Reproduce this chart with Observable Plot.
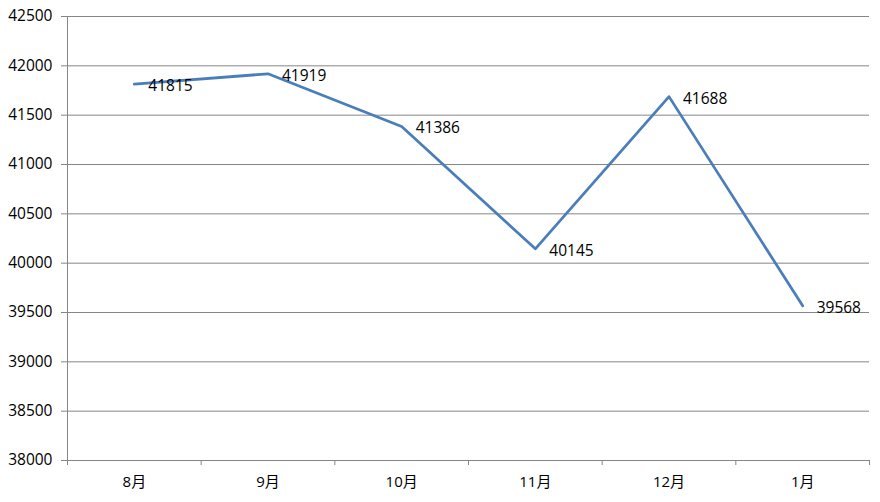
<!DOCTYPE html>
<html>
<head>
<meta charset="utf-8">
<script src="https://cdn.jsdelivr.net/npm/d3@7"></script>
<script src="https://cdn.jsdelivr.net/npm/@observablehq/plot@0.6"></script>
<style>
  html, body { margin: 0; padding: 0; background: #fff; }
  #chart svg { display: block; }
</style>
</head>
<body>
<div id="chart"></div>
<script>
const months = ["8月", "9月", "10月", "11月", "12月", "1月"];
const values = [41815, 41919, 41386, 40145, 41688, 39568];
const yTicks = [38000, 38500, 39000, 39500, 40000, 40500, 41000, 41500, 42000, 42500];

const data = months.map((m, i) => ({ m, i: i + 0.5, v: values[i] }));
const edges = d3.range(months.length + 1);
const centers = months.map((m, i) => i + 0.5);
const font = "'Open Sans', 'Noto Sans CJK SC', sans-serif";
const gray = "#868686";

const chart = Plot.plot({
  width: 880,
  height: 502,
  marginLeft: 67,
  marginRight: 11,
  marginTop: 16,
  marginBottom: 42,
  style: { fontFamily: font, fontSize: "15px", color: "#000", background: "#fff" },
  x: { type: "linear", domain: [0, months.length] },
  y: { domain: [38000, 42500] },
  marks: [
    Plot.gridY(yTicks, { x1: 0, x2: months.length, stroke: gray, strokeOpacity: 1, strokeWidth: 1 }),
    Plot.axisY(yTicks, { tickSize: 6, tickPadding: 9, tickFormat: (d) => String(d), stroke: gray, strokeOpacity: 1, fill: "#000", fontSize: 15.5, label: null }),
    Plot.ruleX([0], { stroke: gray, strokeWidth: 1 }),
    Plot.axisX(edges, { tickSize: 5, tickFormat: () => "", stroke: gray, strokeOpacity: 1, label: null }),
    Plot.axisX(centers, { tickSize: 0, tickPadding: 16, tickFormat: (d) => months[Math.floor(d)], fill: "#000", fontSize: 15, label: null }),
    Plot.line(data, { x: "i", y: "v", stroke: "#4a7ebb", strokeWidth: 2.75 }),
    Plot.text(data, { x: "i", y: "v", text: (d) => String(d.v), textAnchor: "start", dx: 14, dy: 2, fill: "#000", fontSize: 15.5 })
  ]
});
document.getElementById("chart").appendChild(chart);
</script>
</body>
</html>
